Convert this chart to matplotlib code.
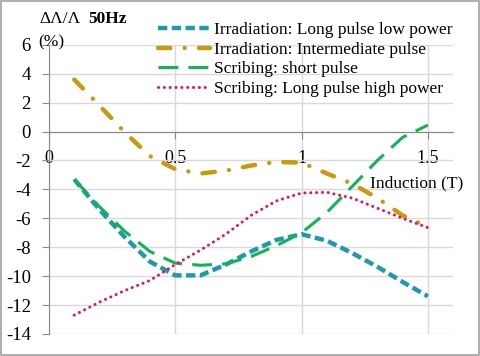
import matplotlib
matplotlib.use("Agg")
import matplotlib.pyplot as plt
from matplotlib.patches import Rectangle

# datos
induccion = [0.1, 0.2, 0.3, 0.4, 0.5, 0.6, 0.7, 0.8, 0.9, 1.0, 1.1, 1.2, 1.3, 1.4, 1.5]
irr_largo = [-3.3, -5.4, -7.3, -9.0, -9.95, -9.95, -9.2, -8.3, -7.5, -7.1, -7.55, -8.4, -9.35, -10.4, -11.4]
irr_inter = [3.6, 1.8, -0.05, -1.7, -2.6, -2.9, -2.7, -2.35, -2.1, -2.15, -2.9, -3.6, -4.6, -5.8, -6.6]
scr_corto = [-3.3, -5.2, -6.9, -8.3, -9.1, -9.25, -9.15, -8.65, -7.9, -7.0, -5.6, -3.8, -2.0, -0.4, 0.45]
scr_largo = [-12.7, -11.8, -11.0, -10.3, -9.2, -8.2, -7.1, -5.8, -4.8, -4.25, -4.2, -4.6, -5.3, -6.0, -6.65]

etiquetas = ["Irradiation: Long pulse low power", "Irradiation: Intermediate pulse",
             "Scribing: short pulse", "Scribing: Long pulse high power"]
xticks = [0, 0.5, 1, 1.5]
xtick_labels = ["0", "0.5", "1", "1.5"]
yticks = list(range(-14, 7, 2))

TEAL, ORO, VERDE, ROSA = "#1c9cab", "#c99a0c", "#12b255", "#e8115c"

plt.rcParams["font.family"] = ["Liberation Serif", "DejaVu Serif"]
plt.rcParams["axes.unicode_minus"] = False

fig = plt.figure(figsize=(4.8, 3.56), dpi=100)
ax = fig.add_axes([0.102, 0.062, 0.842, 0.812])

ax.plot(induccion, irr_largo, color=TEAL, lw=3.2, dashes=(2.1, 1.0), label=etiquetas[0])
ax.plot(induccion, irr_inter, color=ORO, lw=3.2, dashes=(2.8, 3.2, 0.01, 3.2),
        dash_capstyle="round", label=etiquetas[1])
ax.plot(induccion, scr_corto, color=VERDE, lw=2.2, dashes=(6.5, 3.3), label=etiquetas[2])
ax.plot(induccion, scr_largo, color=ROSA, lw=2.2, dashes=(0.01, 1.9),
        dash_capstyle="round", label=etiquetas[3])

ax.set_xlim(0, 1.6)
ax.set_ylim(-14, 6)
ax.set_xticks(xticks)
ax.set_xticklabels(xtick_labels)
ax.set_yticks(yticks)
ax.tick_params(axis="both", labelsize=13, color="#888888", length=5)
ax.tick_params(axis="x", pad=8)
ax.tick_params(axis="y", pad=8, labelsize=13.5)
ax.grid(True, color="#d9d9d9", lw=1)
ax.set_axisbelow(True)

for lado in ["top", "right"]:
    ax.spines[lado].set_visible(False)
ax.spines["bottom"].set_position(("data", 0))
ax.spines["bottom"].set_color("#888888")
ax.spines["left"].set_color("#888888")

ax.text(1.27, -3.6, "Induction (T)", fontsize=12.5, va="center", ha="left")

fig.text(0.083, 0.948, "\u0394\u039b/\u039b", fontsize=12.5, va="center", ha="left")
fig.text(0.183, 0.948, "50Hz", fontsize=12.5, fontweight="bold", va="center", ha="left")
fig.text(0.079, 0.882, "(%)", fontsize=12.5, va="center", ha="left")

ax.legend(loc="upper left", bbox_to_anchor=(158 / 480, 1 - 22 / 356), bbox_transform=fig.transFigure,
          frameon=False, fontsize=12.5, handlelength=3.0, handletextpad=0.25,
          labelspacing=0.2, borderpad=0, borderaxespad=0)

fig.patches.append(Rectangle((0.002, 0.003), 0.995, 0.993, transform=fig.transFigure,
                             fill=False, edgecolor="#a0a0a0", lw=1.2))

fig.savefig("out.png", dpi=100)
